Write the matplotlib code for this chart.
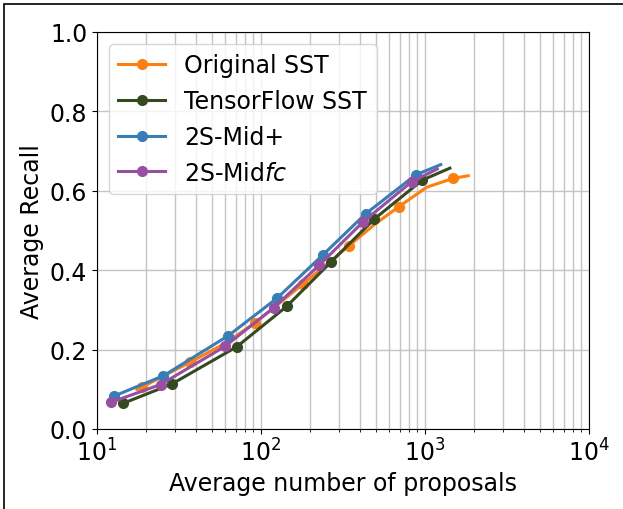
import matplotlib
matplotlib.use("Agg")
import matplotlib.pyplot as plt
from matplotlib.patches import Rectangle

# Average recall vs. number of proposals
orig_x = [17.5, 18.7, 36.9, 60, 91.8, 180, 345, 495, 693, 1024, 1476, 1836]
orig_y = [0.100, 0.105, 0.168, 0.215, 0.267, 0.365, 0.462, 0.516, 0.560, 0.609, 0.631, 0.638]
orig_marks = [1, 2, 4, 5, 6, 8, 10]

tf_x = [14.5, 28.5, 71.1, 143.5, 266, 491, 963, 1418]
tf_y = [0.065, 0.113, 0.207, 0.309, 0.420, 0.529, 0.627, 0.657]
tf_marks = [0, 1, 2, 3, 4, 5, 6]

mid_x = [12.7, 25.4, 63.2, 125.6, 237.6, 434, 877, 1248]
mid_y = [0.083, 0.134, 0.235, 0.330, 0.438, 0.542, 0.640, 0.666]
mid_marks = [0, 1, 2, 3, 4, 5, 6]

fc_x = [12.1, 24.4, 60.3, 120, 226.8, 420, 830, 1189]
fc_y = [0.067, 0.112, 0.208, 0.306, 0.413, 0.522, 0.623, 0.655]
fc_marks = [0, 1, 2, 3, 4, 5, 6]

fig = plt.figure(figsize=(6.23, 5.10), dpi=100)
ax = fig.add_axes([97/623, 80/510, 492/623, 397/510])

ax.semilogx(orig_x, orig_y, '-o', color='#ff7f0e', lw=2.2, ms=7, markevery=orig_marks, label='Original SST')
ax.semilogx(tf_x, tf_y, '-o', color='#354a21', lw=2.2, ms=7, markevery=tf_marks, label='TensorFlow SST')
ax.semilogx(mid_x, mid_y, '-o', color='#377eb8', lw=2.2, ms=7, markevery=mid_marks, label='2S-Mid+')
ax.semilogx(fc_x, fc_y, '-o', color='#984ea3', lw=2.2, ms=7, markevery=fc_marks, label='2S-Mid$fc$')

ax.set_xlim(10, 1e4)
ax.set_ylim(0, 1.0)
ax.grid(True, which='both', color='#c4c4c4', lw=1)
ax.set_xlabel('Average number of proposals', fontsize=17)
ax.set_ylabel('Average Recall', fontsize=17)
ax.tick_params(labelsize=17)
ax.legend(loc='upper left', fontsize=17)

# border around the figure
fig.patches.append(Rectangle((4/623, -0.1), 1.2, 1.1 - 5/510, transform=fig.transFigure,
                             fill=False, edgecolor='black', lw=1.2))

fig.savefig('out.png', dpi=100)
